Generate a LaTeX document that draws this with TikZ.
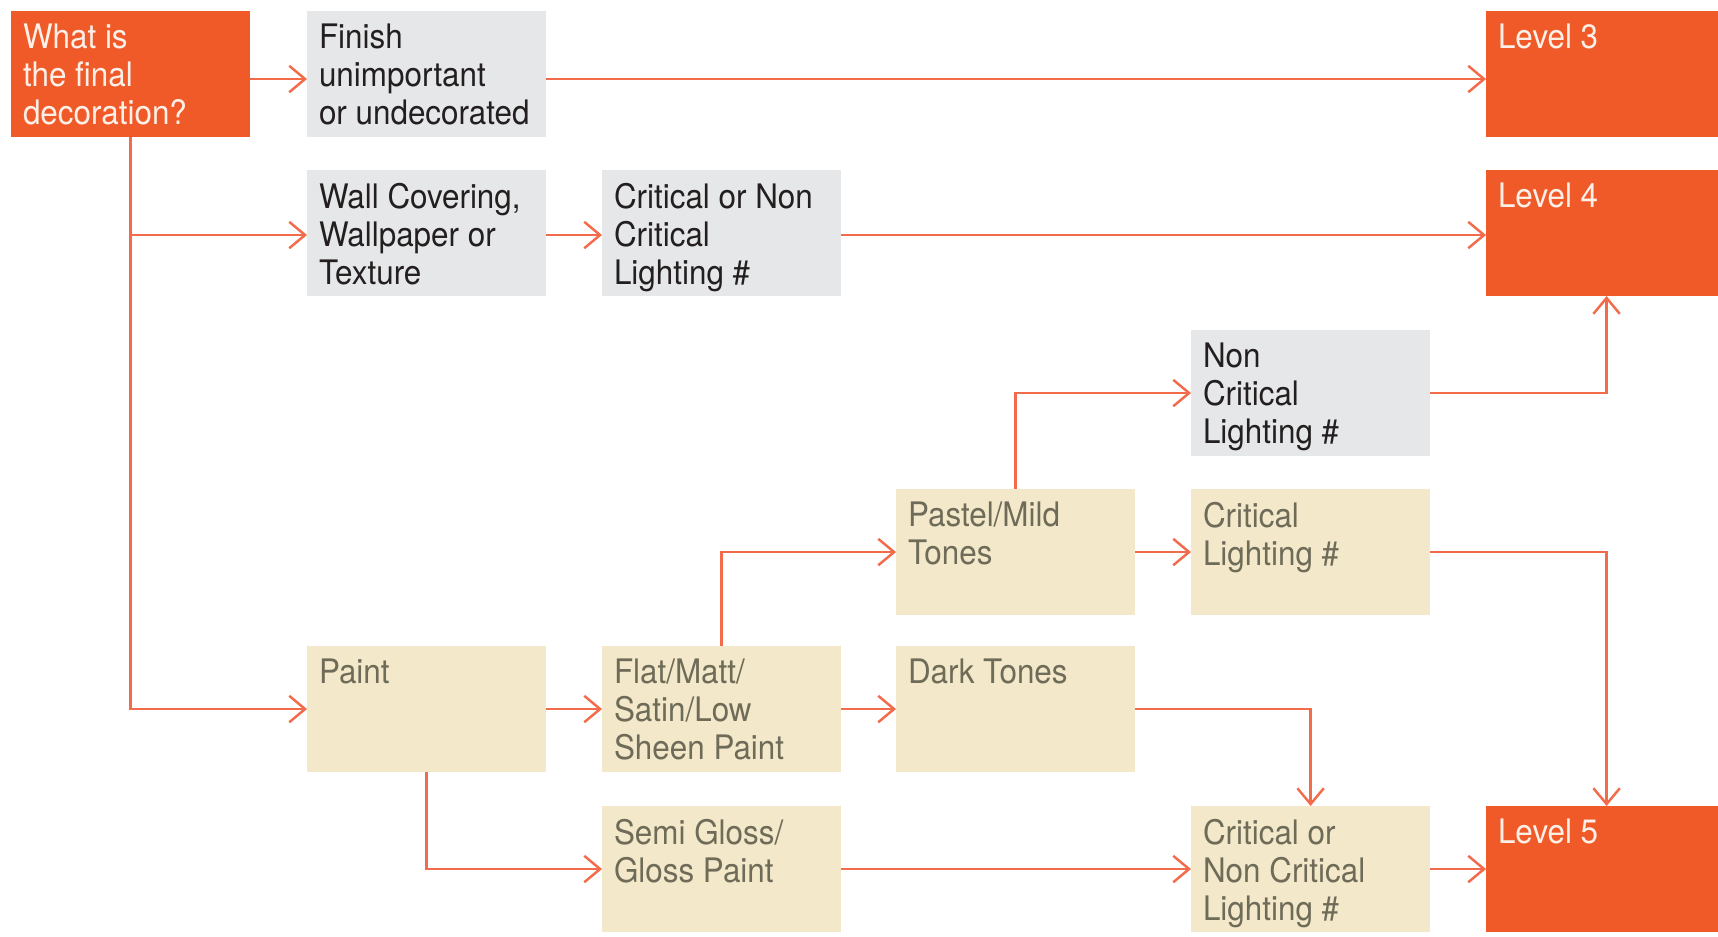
\documentclass[tikz,border=0pt]{standalone}
\usepackage{fontspec}
\setmainfont[FakeStretch=0.93]{TeX Gyre Heros}
\usetikzlibrary{arrows.meta}
\definecolor{orng}{HTML}{F05A28}
\definecolor{grayb}{HTML}{E6E7E8}
\definecolor{beige}{HTML}{F3E8C9}
\definecolor{lnc}{HTML}{F26B4A}
\definecolor{beigetxt}{HTML}{6E6B58}
\definecolor{darktxt}{HTML}{231F20}
\definecolor{lighttxt}{HTML}{FDF0E8}
\newcommand{\mytxt}[2][2.15cm]{\parbox[t][1.0cm][t]{#1}{\raggedright #2}}
\tikzset{
  boxbase/.style={anchor=north west, inner xsep=0.12cm, inner ysep=0.13cm,
    minimum width=2.39cm, minimum height=1.26cm, outer sep=0pt,
    font=\fontsize{9.6pt}{10.8pt}\selectfont},
  orbox/.style={boxbase, fill=orng, text=lighttxt},
  lvbox/.style={orbox, minimum width=2.32cm},
  grbox/.style={boxbase, fill=grayb, text=darktxt},
  bgbox/.style={boxbase, fill=beige, text=beigetxt},
  conn/.style={draw=lnc, line width=0.7pt,
    -{Straight Barb[length=4.5pt,width=7.5pt,line width=0.7pt]}}
}
\begin{document}
\begin{tikzpicture}[x=0.01cm,y=-0.01cm]
\useasboundingbox (0,0) rectangle (1718,937);
\fill[white] (0,0) rectangle (1718,937);
\node[orbox] (start) at (11,11) {\mytxt{What is\\the final\\decoration?}};
\node[grbox] (finish) at (307,11) {\mytxt{Finish\\unimportant\\or undecorated}};
\node[lvbox] (lvl3) at (1486,11) {\mytxt[2.08cm]{Level 3}};
\node[grbox] (wall) at (307,170) {\mytxt{Wall Covering,\\Wallpaper or\\Texture}};
\node[grbox] (crit1) at (602,170) {\mytxt{Critical or Non\\Critical\\Lighting \#}};
\node[lvbox] (lvl4) at (1486,170) {\mytxt[2.08cm]{Level 4}};
\node[grbox] (noncrit) at (1191,330) {\mytxt{Non\\Critical\\Lighting \#}};
\node[bgbox] (pastel) at (896,489) {\mytxt{Pastel/Mild\\Tones}};
\node[bgbox] (critl) at (1191,489) {\mytxt{Critical\\Lighting \#}};
\node[bgbox] (paint) at (307,646) {\mytxt{Paint}};
\node[bgbox] (flat) at (602,646) {\mytxt{Flat/Matt/\\Satin/Low\\Sheen Paint}};
\node[bgbox] (dark) at (896,646) {\mytxt{Dark Tones}};
\node[bgbox] (semi) at (602,806) {\mytxt{Semi Gloss/\\Gloss Paint}};
\node[bgbox] (critor) at (1191,806) {\mytxt{Critical or\\Non Critical\\Lighting \#}};
\node[lvbox] (lvl5) at (1486,806) {\mytxt[2.08cm]{Level 5}};
\draw[conn] ([yshift=-0.05cm]start.east) -- ([yshift=-0.05cm]finish.west);
\draw[conn] ([yshift=-0.05cm]finish.east) -- ([yshift=-0.05cm]lvl3.west);
\draw[conn] (start.south) |- ([yshift=-0.02cm]wall.west);
\draw[conn] (start.south) |- (paint.west);
\draw[conn] ([yshift=-0.02cm]wall.east) -- ([yshift=-0.02cm]crit1.west);
\draw[conn] ([yshift=-0.02cm]crit1.east) -- ([yshift=-0.02cm]lvl4.west);
\draw[conn] (paint.east) -- (flat.west);
\draw[conn] (flat.east) -- (dark.west);
\draw[conn] (paint.south) |- (semi.west);
\draw[conn] (flat.north) |- (pastel.west);
\draw[conn] (pastel.north) |- (noncrit.west);
\draw[conn] (pastel.east) -- (critl.west);
\draw[conn] (noncrit.east) -| ([xshift=0.045cm]lvl4.south);
\draw[conn] (critl.east) -| ([xshift=0.045cm]lvl5.north);
\draw[conn] (dark.east) -| (critor.north);
\draw[conn] (semi.east) -- (critor.west);
\draw[conn] (critor.east) -- (lvl5.west);
\end{tikzpicture}
\end{document}
